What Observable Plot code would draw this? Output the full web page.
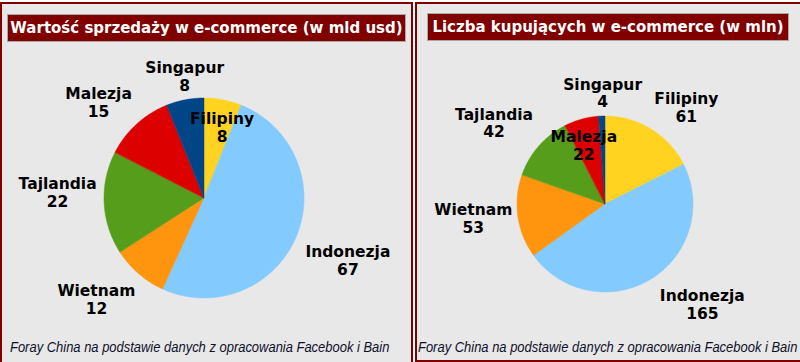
<!DOCTYPE html>
<html><head><meta charset="utf-8">
<script src="https://cdn.jsdelivr.net/npm/d3@7"></script>
<script src="https://cdn.jsdelivr.net/npm/@observablehq/plot@0.6"></script>
<style>
html,body{margin:0;padding:0;background:#fff;}
#page{position:relative;width:800px;height:362px;overflow:hidden;background:#fff;}
.panel{position:absolute;box-sizing:border-box;background:#e8e8e8;border:2px solid #800000;}
.title{position:absolute;box-sizing:border-box;background:#800000;color:#fff;font-family:"DejaVu Sans",sans-serif;font-weight:bold;font-size:15px;line-height:26px;height:28px;white-space:nowrap;border:1px solid #a9a9a9;text-align:center;}
.caption{position:absolute;font-family:"Liberation Sans",Arial,sans-serif;font-style:italic;font-size:14px;color:#10102a;white-space:nowrap;transform-origin:0 0;transform:scaleX(0.925);}
.chart{position:absolute;top:0;}
</style></head>
<body><div id="page"></div>
<script>
// ---- data ----
const countries = ["Filipiny", "Indonezja", "Wietnam", "Tajlandia", "Malezja", "Singapur"];
const salesValues = [8, 67, 12, 22, 15, 8];          // mld usd
const buyersValues = [61, 165, 53, 42, 22, 4];      // mln
const salesTitle = "Wartość sprzedaży w e-commerce (w mld usd)";
const buyersTitle = "Liczba kupujących w e-commerce (w mln)";
const sourceText = "Foray China na podstawie danych z opracowania Facebook i Bain";
const sliceColors = ["#ffd320", "#83caff", "#ff950e", "#579d1c", "#dd0000", "#004586"];

// ---- layout (label placement: distance in radii, angle nudge in degrees) ----
const salesLabelLayout = [[0.73, 3], [1.56, 0], [1.48, 6], [1.47, 5], [1.43, -5.5], [1.24, 1.7]];
const buyersLabelLayout = [[1.44, 8], [1.58, -13], [1.51, 2], [1.57, -5], [0.72, -4.4], [1.27, 0.6]];

const page = document.getElementById("page");
function el(cls, style, text) {
  const d = document.createElement("div");
  d.className = cls;
  Object.assign(d.style, style);
  if (text) d.textContent = text;
  page.appendChild(d);
  return d;
}

function pie(values, layout, W, H, cx, cy, r) {
  const arcs = d3.pie().sort(null).value(d => d)(values);
  const pts = [];
  const labels = [];
  arcs.forEach((a, i) => {
    const n = Math.max(2, Math.ceil((a.endAngle - a.startAngle) / 0.01));
    for (let k = 0; k <= n; k++) {
      const t = a.startAngle + (a.endAngle - a.startAngle) * k / n;
      pts.push({country: countries[i], cx, cy, x: cx + r * Math.sin(t), y: cy - r * Math.cos(t)});
    }
    const [f, da] = layout[i];
    const m = (a.startAngle + a.endAngle) / 2 + da * Math.PI / 180;
    labels.push({country: countries[i], value: values[i], x: cx + f * r * Math.sin(m), y: cy - f * r * Math.cos(m)});
  });
  return Plot.plot({
    width: W, height: H, margin: 0,
    style: {background: "transparent", fontFamily: "DejaVu Sans"},
    x: {domain: [0, W], range: [0, W], axis: null},
    y: {domain: [0, H], range: [0, H], axis: null},
    color: {domain: countries, range: sliceColors},
    marks: [
      Plot.area(pts, {x1: "cx", y1: "cy", x2: "x", y2: "y", z: "country", fill: "country", stroke: "country", strokeWidth: 0.5, curve: "linear"}),
      Plot.text(labels, {x: "x", y: "y", text: d => d.country + "\n" + d.value, fontSize: 15.5, fontWeight: "bold", fill: "#000", lineHeight: 1.15})
    ]
  });
}

// panels
el("panel", {left: "0px", top: "2px", width: "413px", height: "370px"});
el("panel", {left: "415px", top: "2px", width: "400px", height: "360px"});

const left = pie(salesValues, salesLabelLayout, 412, 362, 204, 198, 100);
left.classList.add("chart"); left.style.left = "0px";
page.appendChild(left);

const right = pie(buyersValues, buyersLabelLayout, 385, 362, 190, 204, 88);
right.classList.add("chart"); right.style.left = "415px";
page.appendChild(right);

el("title", {left: "7px", top: "14px", width: "399px"}, salesTitle);
el("title", {left: "427px", top: "13px", width: "362px"}, buyersTitle);
el("caption", {left: "10px", top: "339px"}, sourceText);
el("caption", {left: "418px", top: "339px"}, sourceText);
</script></body></html>
